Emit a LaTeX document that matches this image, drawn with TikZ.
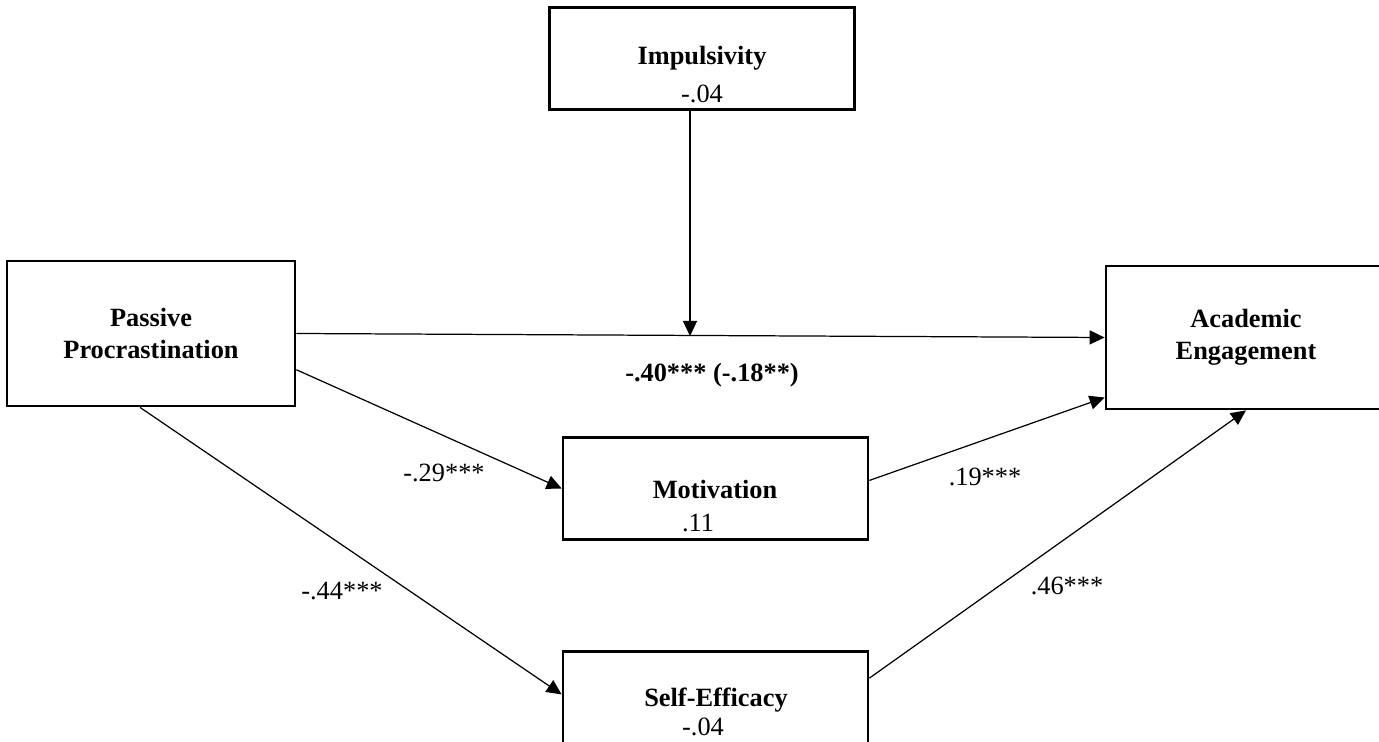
\documentclass[tikz,border=0pt]{standalone}
\usepackage{fontspec}
\setmainfont{Liberation Serif}
\usetikzlibrary{positioning}
\usetikzlibrary{arrows.meta}
\tikzset{
    varbox/.style = {rectangle, draw=black, line width=1.6pt, inner sep=0pt},
    bigbox/.style = {varbox, minimum width=5.76cm, minimum height=2.9cm, align=center, font=\bfseries},
    smallbox/.style = {varbox, minimum width=6.1cm, minimum height=2.04cm},
    vname/.style = {anchor=base, inner sep=0pt, font=\bfseries},
    vval/.style = {anchor=base, inner sep=0pt},
    coef/.style = {anchor=base, inner sep=0pt},
    edgen/.style = {-{Triangle[length=0.3cm,width=0.28cm]}, line width=0.7pt},
    every picture/.style={font issue=\fontsize{15}{18}},
    font issue/.style={execute at begin picture={#1\selectfont}}
}
\begin{document}
\begin{tikzpicture}[x=0.02cm, y=-0.02cm]
  \useasboundingbox (0,0) rectangle (1379,742);
  \clip (0,0) rectangle (1379,742);

  % variables
  \node[bigbox] (pp) at (151,333.5) {Passive\\Procrastination};
  \node[bigbox, minimum width=5.6cm, minimum height=2.86cm] (ae) at (1246,337.5) {Academic\\Engagement};
  \node[smallbox] (imp) at (702,58.5) {};
  \node[smallbox] (mot) at (715.5,488.5) {};
  \node[smallbox] (se) at (715.5,702.5) {};

  \node[vname] (impname) at (702,65) {Impulsivity};
  \node[vval] (impval) at (702,103) {-.04};
  \node[vname] (motname) at (715,499) {Motivation};
  \node[vval] (motval) at (698,532) {.11};
  \node[vname] (sename) at (716,706) {Self-Efficacy};
  \node[vval] (seval) at (703,735) {-.04};

  % paths
  \coordinate (mod) at (690,336);
  \draw[edgen] (pp.east) -- (ae.west);
  \draw[edgen] (imp.south -| mod) -- (mod);
  \draw[edgen] (pp.-14) -- (mot.west);
  \draw[edgen] ([xshift=-0.22cm]pp.south) -- (se.177);
  \draw[edgen] (mot.3) -- (ae.203);
  \draw[edgen] (se.9.5) -- (ae.south);

  % coefficients
  \node[coef, font=\bfseries] (cdirect) at (712,382) {-.40*** (-.18**)};
  \node[coef] (cppmot) at (444,482) {-.29***};
  \node[coef] (cmotae) at (985,486) {.19***};
  \node[coef] (cppse) at (342,600) {-.44***};
  \node[coef] (cseae) at (1067,595) {.46***};
\end{tikzpicture}
\end{document}
